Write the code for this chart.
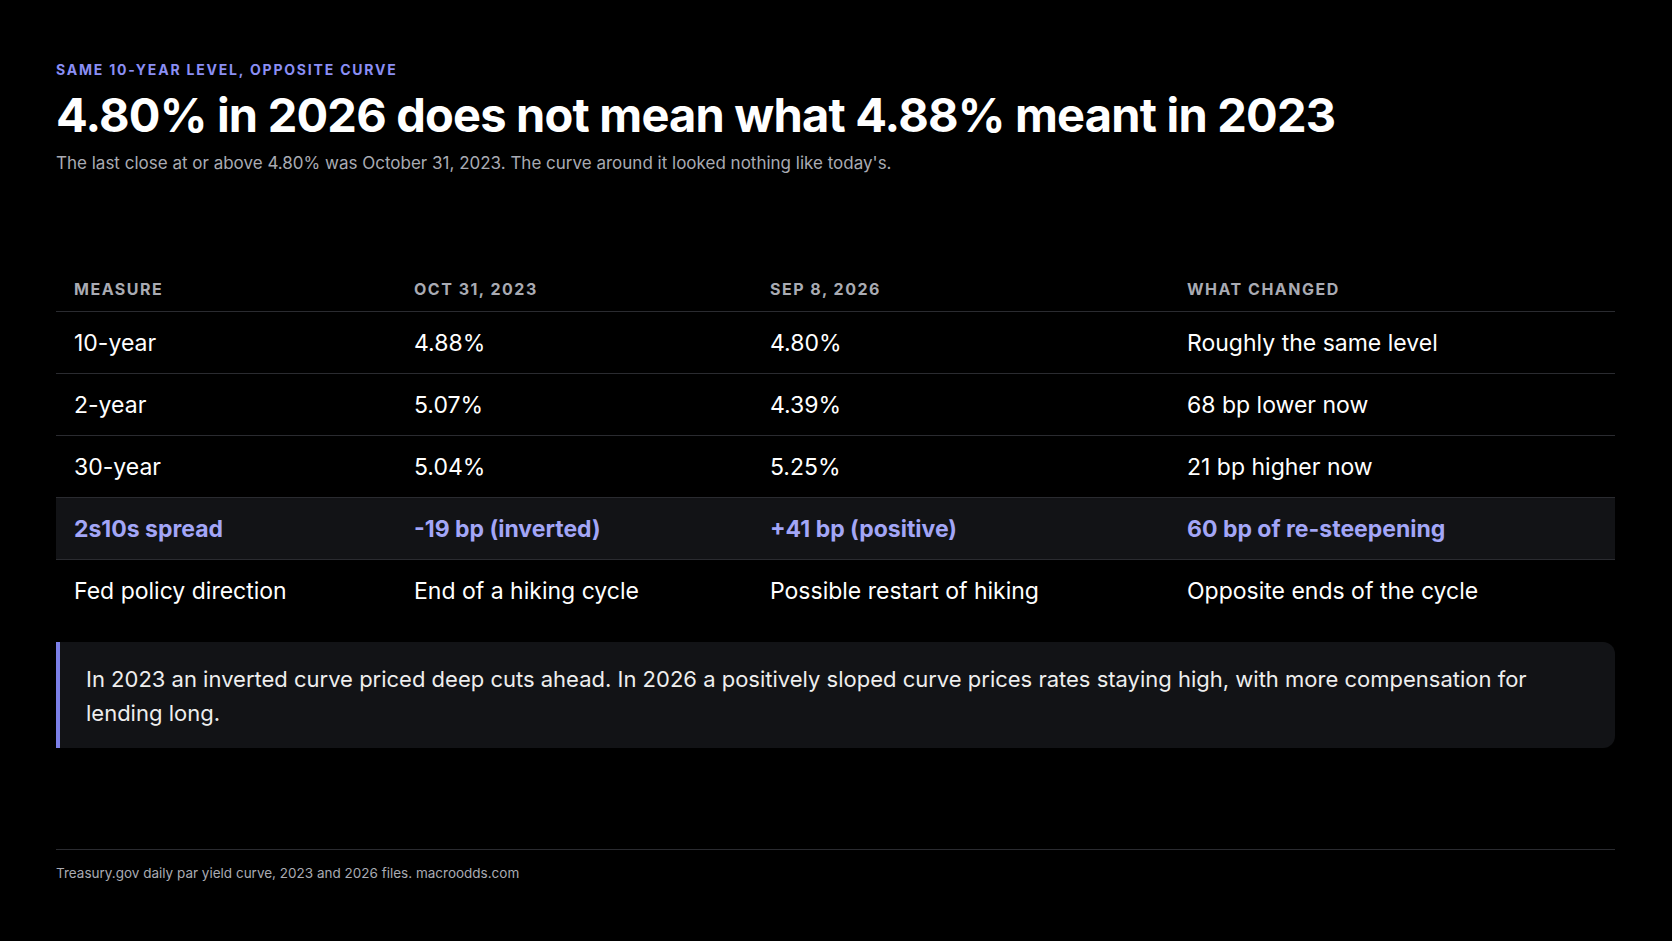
<!DOCTYPE html>
<html><head><meta charset="utf-8">
<script src="https://cdn.jsdelivr.net/npm/chart.js@4"></script>
<style>
html,body{margin:0;background:#000;width:1672px;height:941px;overflow:hidden;font-family:Inter,"Noto Sans",sans-serif;color:#fff}
.wrap{position:absolute;left:56px;right:57px;top:0}
.eyebrow{position:absolute;top:61px;font-size:14px;font-weight:700;letter-spacing:1.8px;color:#8b8ff5}
.title{position:absolute;top:86px;font-size:47px;font-weight:700;letter-spacing:-0.8px;white-space:nowrap}
.sub{position:absolute;top:153px;font-size:17px;color:#a9abb3}
table{position:absolute;top:266px;left:0;width:1559px;border-collapse:collapse}
th{text-align:left;font-size:16px;font-weight:700;letter-spacing:1.5px;color:#a9abb3;height:45px;padding:0 0 0 18px;vertical-align:middle}
td{font-size:23px;height:61px;padding:0 0 0 18px;border-top:1px solid #2a2b30;vertical-align:middle}
tr.hl td{background:#121316;color:#a3a6f7;font-weight:700}
.callout{position:absolute;top:642px;left:0;width:1559px;height:106px;background:#121316;border-radius:0 12px 12px 0;border-left:4px solid #7c80e8;box-sizing:border-box;padding:20px 26px;font-size:22px;line-height:34px;color:#eee}
.foot{position:absolute;top:849px;width:1559px;border-top:1px solid #2a2b30;padding-top:15px;font-size:13.5px;color:#a9abb3}
canvas{display:none}
</style></head><body>
<div class="wrap">
<div class="eyebrow">SAME 10-YEAR LEVEL, OPPOSITE CURVE</div>
<div class="title">4.80% in 2026 does not mean what 4.88% meant in 2023</div>
<div class="sub">The last close at or above 4.80% was October 31, 2023. The curve around it looked nothing like today's.</div>
<table id="t"><colgroup><col style="width:340px"><col style="width:356px"><col style="width:417px"><col></colgroup></table>
<div class="callout">In 2023 an inverted curve priced deep cuts ahead. In 2026 a positively sloped curve prices rates staying high, with more compensation for lending long.</div>
<div class="foot">Treasury.gov daily par yield curve, 2023 and 2026 files. macroodds.com</div>
</div>
<canvas id="c"></canvas>
<script>
const headers=["MEASURE","OCT 31, 2023","SEP 8, 2026","WHAT CHANGED"];
const measures=["10-year","2-year","30-year","2s10s spread","Fed policy direction"];
const oct2023=["4.88%","5.07%","5.04%","-19 bp (inverted)","End of a hiking cycle"];
const sep2026=["4.80%","4.39%","5.25%","+41 bp (positive)","Possible restart of hiking"];
const changed=["Roughly the same level","68 bp lower now","21 bp higher now","60 bp of re-steepening","Opposite ends of the cycle"];
const highlight=3;
const t=document.getElementById('t');
let h='<tr>'+headers.map(x=>'<th>'+x+'</th>').join('')+'</tr>';
measures.forEach((m,i)=>{h+='<tr'+(i===highlight?' class="hl"':'')+'><td>'+m+'</td><td>'+oct2023[i]+'</td><td>'+sep2026[i]+'</td><td>'+changed[i]+'</td></tr>';});
t.insertAdjacentHTML('beforeend',h);
</script>
</body></html>
